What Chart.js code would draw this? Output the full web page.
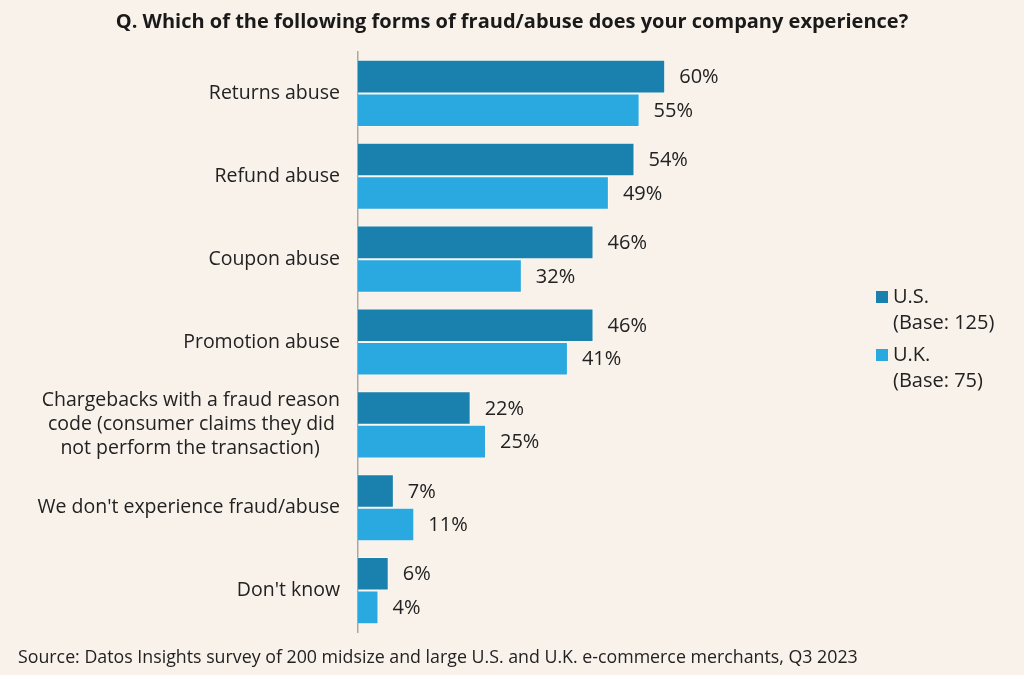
<!DOCTYPE html>
<html>
<head>
<meta charset="utf-8">
<script src="https://cdn.jsdelivr.net/npm/chart.js@4.4.0/dist/chart.umd.min.js"></script>
<style>
  html, body { margin: 0; padding: 0; background: #f8f2eb; }
  #wrap { width: 1024px; height: 675px; position: relative; }
</style>
</head>
<body>
<div id="wrap"><canvas id="chart"></canvas></div>
<script>
const categories = [
  "Returns abuse",
  "Refund abuse",
  "Coupon abuse",
  "Promotion abuse",
  // trailing spaces keep the three lines centred on each other, like the original
  ["Chargebacks with a fraud reason", "code (consumer claims they did ", "not perform the transaction)    "],
  "We don't experience fraud/abuse",
  "Don't know"
];
const usValues = [60, 54, 46, 46, 22, 7, 6];
const ukValues = [55, 49, 32, 41, 25, 11, 4];
const seriesNames = ["U.S.", "U.K."];
const seriesBases = ["(Base: 125)", "(Base: 75)"];
const titleText = "Q. Which of the following forms of fraud/abuse does your company experience?";
const sourceText = "Source: Datos Insights survey of 200 midsize and large U.S. and U.K. e-commerce merchants, Q3 2023";

const usColor = "#1a80ae";
const ukColor = "#29a9e0";
const fontFamily = "'Open Sans', sans-serif";

// draws title, source, value labels and legend
const extras = {
  id: "extras",
  afterDraw(chart) {
    const ctx = chart.ctx;
    ctx.save();
    ctx.fillStyle = "#1a1a1a";
    ctx.font = "bold 20px " + fontFamily;
    ctx.textAlign = "center";
    ctx.textBaseline = "middle";
    ctx.fillText(titleText, 512, 22);

    ctx.font = "17.8px " + fontFamily;
    ctx.textAlign = "left";
    ctx.fillStyle = "#222";
    ctx.fillText(sourceText, 18, 658);

    ctx.font = "20px " + fontFamily;
    chart.data.datasets.forEach((ds, i) => {
      const meta = chart.getDatasetMeta(i);
      meta.data.forEach((bar, j) => {
        ctx.fillText(ds.data[j] + "%", bar.x + 14, bar.y + 1);
      });
    });

    const colors = [usColor, ukColor];
    const tops = [297, 355];
    seriesNames.forEach((name, i) => {
      ctx.fillStyle = colors[i];
      ctx.fillRect(876, tops[i] - 6, 12, 12);
      ctx.fillStyle = "#222";
      ctx.fillText(name, 893, tops[i]);
      ctx.fillText(seriesBases[i], 893, tops[i] + 26);
    });
    ctx.restore();
  }
};

new Chart(document.getElementById("chart"), {
  type: "bar",
  data: {
    labels: categories,
    datasets: [
      { label: seriesNames[0], data: usValues, backgroundColor: usColor, borderColor: "rgba(255,255,255,0.5)", borderWidth: 1 },
      { label: seriesNames[1], data: ukValues, backgroundColor: ukColor, borderColor: "rgba(255,255,255,0.5)", borderWidth: 1 }
    ]
  },
  options: {
    indexAxis: "y",
    responsive: true,
    maintainAspectRatio: false,
    animation: false,
    layout: { padding: { top: 52, bottom: 43, left: 0, right: 154 } },
    datasets: { bar: { categoryPercentage: 0.81, barPercentage: 1.0 } },
    scales: {
      x: { display: false, min: 0, max: 100 },
      y: {
        afterFit(scale) { scale.width = 358; },
        grid: { display: false, drawTicks: false },
        border: { display: true, color: "#a8a8a8", width: 1.5 },
        ticks: {
          color: "#222",
          padding: 18,
          font: { family: fontFamily, size: 19.5, lineHeight: 1.23 }
        }
      }
    },
    plugins: {
      legend: { display: false },
      tooltip: { enabled: false }
    }
  },
  plugins: [extras]
});
</script>
</body>
</html>
